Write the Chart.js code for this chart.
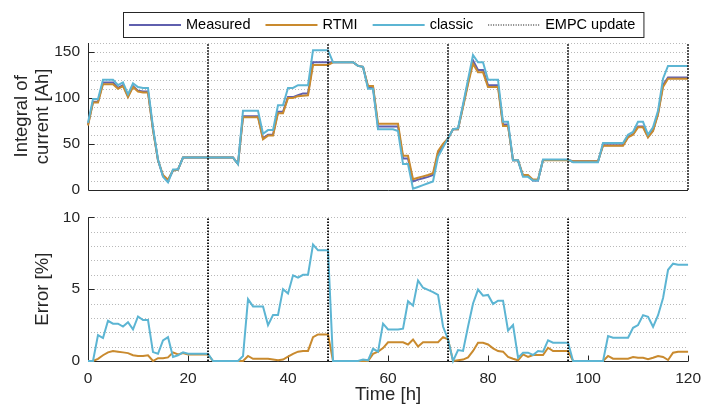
<!DOCTYPE html>
<html>
<head>
<meta charset="utf-8">
<script src="https://cdn.jsdelivr.net/npm/chart.js@4.4.1/dist/chart.umd.min.js"></script>
<style>
  body { margin: 0; background: #fff; overflow: hidden; }
  #wrap { position: relative; width: 701px; height: 410px; overflow: hidden; }
  canvas { position: absolute; left: 0; }
  #top { top: 0; }
  #bottom { top: 200px; }
</style>
</head>
<body>
<div id="wrap">
  <canvas id="top" width="701" height="207"></canvas>
  <canvas id="bottom" width="709" height="210"></canvas>
</div>
<script>
// time in hours, one sample per hour
const hours = Array.from({length: 121}, (_, i) => i);
const updateTimes = [24, 48, 72, 96, 120];

// integral of current [Ah]
const measured = [
  71, 96, 96, 117, 117, 117, 111, 114, 102, 113, 108, 107, 107,
  66, 32, 15, 10, 21, 22, 35, 35, 35, 35, 35, 35,
  35, 35, 35, 35, 35, 28, 80, 80, 80, 80, 56, 60,
  60, 85, 85, 101, 101, 103, 105, 105, 139, 139, 139, 139,
  139, 139, 139, 139, 139, 135, 134, 112, 112, 69, 69, 69,
  69, 69, 34, 34, 9, 11, 12.5, 14, 16, 39, 48, 56,
  66, 66, 91, 117, 141, 130.5, 130.5, 114, 114, 114, 71, 71,
  32, 32, 15, 15, 10, 10, 32.5, 32.5, 32.5, 32.5, 32.5, 32.5,
  31, 31, 31, 31, 31, 31, 48.5, 48.5, 48.5, 48.5, 48.5, 57.5,
  60.5, 69, 69, 57.5, 64.5, 83, 114, 122.5, 122.5, 122.5, 122.5, 122.5
];
const rtmi = [
  70, 95, 95, 115, 115, 115, 110, 113, 101, 112, 107, 106, 106,
  65, 32, 16, 11, 21, 22, 35, 35, 35, 35, 35, 35,
  35, 35, 35, 35, 35, 28, 79, 79, 79, 79, 55, 59,
  59, 83.5, 83.5, 100, 100, 102, 102.5, 103, 136, 136, 136, 136,
  139, 139, 139, 139, 139, 135, 134, 113, 113, 72, 72, 72,
  72, 72, 37, 37, 11.5, 13, 14.5, 16, 18, 42, 50, 56,
  66, 66, 90, 115, 137.5, 128, 128, 112, 112, 112, 69.5, 69.5,
  32, 32, 16, 16, 11, 11, 32, 32, 32, 32, 32, 32,
  31, 31, 31, 31, 31, 31, 48, 48, 48, 48, 48, 57,
  60, 68, 68, 57, 64, 82, 112, 121, 121, 121, 121, 121
];
const classic = [
  73, 99, 99, 120, 120, 120, 114, 117, 104, 116, 112, 111, 111,
  68, 33, 14, 8, 22, 22, 35, 35, 35, 35, 35, 35,
  35, 35, 35, 35, 35, 28, 86, 86, 86, 86, 61, 65,
  65, 92, 92, 111, 111, 114, 114, 114, 152, 152, 152, 152,
  139, 139, 139, 139, 139, 135, 134, 110, 110, 66, 66, 66,
  66, 64, 28, 28, 1, 3, 5, 7, 9, 36, 46, 56,
  66, 67, 93, 120, 147, 139, 139, 120, 120, 120, 74, 74,
  32, 32, 14, 14, 10, 10, 33, 33, 33, 33, 33, 33,
  30, 30, 30, 30, 30, 30, 51, 51, 51, 51, 51, 60,
  63, 74, 74, 60, 68, 86, 121, 135, 135, 135, 135, 135
];

// error [%]
const errRtmi = [
  0, 0, 0.15, 0.4, 0.6, 0.7, 0.65, 0.6, 0.55, 0.4, 0.35, 0.35, 0.4,
  0, 0.2, 0.2, 0.25, 0.6, 0.45, 0.55, 0.45, 0.45, 0.45, 0.45, 0.45,
  0, 0, 0, 0, 0, 0, 0, 0.35, 0.15, 0.15, 0.15, 0.15,
  0.1, 0.05, 0.1, 0.3, 0.5, 0.65, 0.7, 0.7, 1.66, 1.85, 1.85, 1.85,
  0, 0, 0, 0, 0, 0, 0, 0, 0.5, 0.65, 0.9, 1.3,
  1.3, 1.3, 1.3, 1.15, 1.5, 1.0, 1.3, 1.3, 1.3, 1.3, 1.66, 1.5,
  0, 0.05, 0.1, 0.25, 0.7, 1.27, 1.27, 1.15, 0.88, 0.69, 0.65, 0.28,
  0.16, 0.05, 0.46, 0.28, 0.42, 0.42, 0.42, 0.92, 0.69, 0.69, 0.69, 0.69,
  0, 0, 0, 0, 0, 0, 0, 0.35, 0.16, 0.16, 0.16, 0.16,
  0.28, 0.23, 0.23, 0.12, 0.23, 0.35, 0.28, 0.07, 0.58, 0.65, 0.65, 0.65
];
const errClassic = [
  0, 0, 1.8, 1.6, 2.8, 2.6, 2.6, 2.4, 2.7, 2.2, 3.1, 2.85, 2.85,
  0.62, 0.5, 1.43, 1.66, 0.28, 0.4, 0.6, 0.5, 0.5, 0.5, 0.5, 0.5,
  0, 0, 0, 0, 0, 0, 0.35, 4.3, 3.8, 3.8, 3.8, 2.5,
  3.2, 3.2, 5.0, 4.7, 5.96, 5.8, 6.0, 6.0, 8.1, 7.7, 7.7, 7.7,
  0, 0, 0, 0, 0, 0, 0.1, 0.05, 0.85, 0.65, 2.6, 2.2,
  2.2, 2.2, 2.25, 4.16, 3.85, 5.6, 5.1, 4.95, 4.8, 4.6, 2.4, 1.5,
  0, 0.76, 0.7, 2.4, 4.0, 4.97, 4.55, 4.6, 3.97, 4.2, 4.2, 2.12,
  2.5, 0.23, 0.58, 0.58, 0.42, 0.69, 0.65, 1.43, 1.27, 1.27, 1.27, 1.27,
  0, 0, 0, 0, 0, 0, 0, 1.73, 1.62, 1.62, 1.62, 1.62,
  2.31, 2.5, 3.19, 3.07, 2.38, 3.19, 4.39, 6.35, 6.77, 6.7, 6.7, 6.7
];

const cMeas = '#5f5fae';
const cRtmi = '#c98a2e';
const cClassic = '#5cb5d3';
const axisCol = '#262626';
const FONT = '"Liberation Sans", Arial, Helvetica, sans-serif';

Chart.defaults.font.family = FONT;
Chart.defaults.color = axisCol;

// grid, axis lines and inward tick marks, drawn from the scales
const frame = {
  id: 'frame',
  beforeDatasetsDraw(chart, args, opts) {
    const {ctx, chartArea: a, scales: {x, y}} = chart;
    ctx.save();
    ctx.lineWidth = 1;
    ctx.strokeStyle = '#b9b9b9';
    ctx.setLineDash([1, 2]);
    y.ticks.forEach(t => {
      if (t.value === y.min) return;
      const py = Math.round(y.getPixelForValue(t.value)) + 0.5;
      ctx.beginPath(); ctx.moveTo(a.left, py); ctx.lineTo(a.right, py); ctx.stroke();
    });
    ctx.setLineDash([]);
    ctx.strokeStyle = axisCol;
    const bx = Math.round(a.left) + 0.5, by = Math.round(a.bottom) + 0.5;
    ctx.beginPath(); ctx.moveTo(bx, a.top); ctx.lineTo(bx, by); ctx.lineTo(a.right, by); ctx.stroke();
    y.ticks.forEach(t => {
      if (t.value % opts.major !== 0 || t.value === y.min) return;
      const py = Math.round(y.getPixelForValue(t.value)) + 0.5;
      ctx.beginPath(); ctx.moveTo(bx, py); ctx.lineTo(bx + 6, py); ctx.stroke();
    });
    if (opts.xTicks) {
      x.ticks.forEach(t => {
        const px = Math.round(x.getPixelForValue(t.value)) + 0.5;
        ctx.beginPath(); ctx.moveTo(px, by); ctx.lineTo(px, by - 6); ctx.stroke();
      });
    }
    ctx.restore();
  }
};

// boxed legend above the top axes
const legendBox = {
  id: 'legendBox',
  afterDraw(chart) {
    const ctx = chart.ctx;
    const items = [
      {text: 'Measured', color: cMeas, dash: []},
      {text: 'RTMI', color: cRtmi, dash: []},
      {text: 'classic', color: cClassic, dash: []},
      {text: 'EMPC update', color: '#000', dash: [1, 1.5], width: 1.2}
    ];
    const left = 123, top = 12, h = 25, cy = top + h / 2 + 0.5;
    ctx.save();
    ctx.font = '14.5px ' + FONT;
    let xx = left + 6;
    const pos = items.map(it => {
      const p = {lx: xx, tx: xx + 57};
      xx = p.tx + ctx.measureText(it.text).width + 15;
      return p;
    });
    const right = xx - 7;
    ctx.fillStyle = '#fff';
    ctx.fillRect(left, top, right - left, h);
    ctx.strokeStyle = axisCol; ctx.lineWidth = 1;
    ctx.strokeRect(left + 0.5, top + 0.5, right - left, h);
    items.forEach((it, i) => {
      ctx.strokeStyle = it.color;
      ctx.lineWidth = it.width || 2;
      ctx.setLineDash(it.dash);
      ctx.beginPath(); ctx.moveTo(pos[i].lx, cy); ctx.lineTo(pos[i].lx + 52, cy); ctx.stroke();
      ctx.setLineDash([]);
      ctx.fillStyle = '#000';
      ctx.textBaseline = 'middle';
      ctx.fillText(it.text, pos[i].tx, cy);
    });
    ctx.restore();
  }
};

function updateSets(yMin, yMax, times) {
  return times.map(t => ({
    data: [{x: t, y: yMin}, {x: t, y: yMax}],
    borderColor: '#000', borderWidth: 1.8, borderDash: [1.5, 1.5],
    pointRadius: 0, order: 0, clip: 3
  }));
}

function lineSet(data, color, order) {
  return {data, borderColor: color, borderWidth: 2, pointRadius: 0, tension: 0, order, clip: 3};
}

const titleFont = {size: 18.5, lineHeight: 1.15};

function xScale(showLabels, height) {
  return {
    type: 'linear', min: 0, max: 120,
    grid: {display: false, drawTicks: false},
    border: {display: false},
    ticks: {display: showLabels, stepSize: 20, padding: 8, font: {size: 15.5}, maxRotation: 0},
    title: {display: showLabels, text: 'Time [h]', font: titleFont, padding: {top: 0, bottom: 4}},
    afterFit: s => { s.height = height; }
  };
}

function yScale(max, step, major, title, titlePad) {
  return {
    min: 0, max,
    grid: {display: false, drawTicks: false},
    border: {display: false},
    ticks: {stepSize: step, autoSkip: false, padding: 8, font: {size: 15.5},
      callback: v => (v % major === 0 ? v : '')},
    title: {display: true, text: title, font: titleFont, padding: {top: titlePad, bottom: 0}},
    afterFit: s => { s.width = 88; }
  };
}

const topChart = new Chart(document.getElementById('top'), {
  type: 'line',
  data: {
    labels: hours,
    datasets: [
      lineSet(classic, cClassic, 1),
      lineSet(rtmi, cRtmi, 2),
      lineSet(measured, cMeas, 3)
    ].concat(updateSets(0, 160, updateTimes))
  },
  options: {
    responsive: false, animation: false,
    layout: {padding: {top: 43, right: 13, left: 0, bottom: 0}},
    plugins: {legend: {display: false}, tooltip: {enabled: false}, frame: {major: 50, xTicks: false}},
    scales: {
      x: xScale(false, 5),
      y: yScale(160, 10, 50, ['Integral of', 'current [Ah]'], 11)
    }
  },
  plugins: [frame, legendBox]
});

new Chart(document.getElementById('bottom'), {
  type: 'line',
  data: {
    labels: hours,
    datasets: [
      lineSet(errClassic, cClassic, 1),
      lineSet(errRtmi, cRtmi, 2)
    ].concat(updateSets(0, 10, updateTimes.slice(0, 4)))
  },
  options: {
    responsive: false, animation: false,
    layout: {padding: {top: 16, right: 0, left: 0, bottom: 0}},
    plugins: {legend: {display: false}, tooltip: {enabled: false}, frame: {major: 5, xTicks: true}},
    scales: {
      x: xScale(true, 49),
      y: yScale(10, 1, 5, 'Error [%]', 32)
    }
  },
  plugins: [frame]
});
</script>
</body>
</html>
